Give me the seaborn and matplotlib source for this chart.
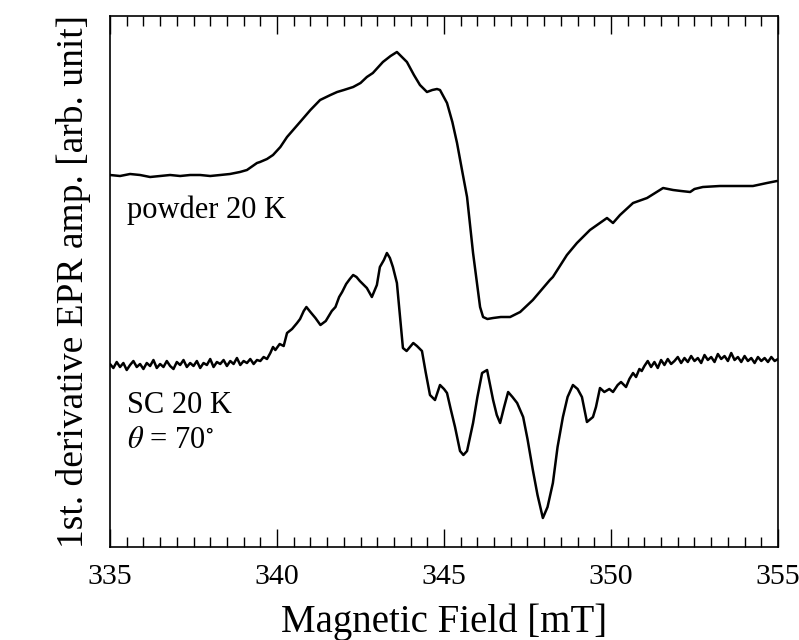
import numpy as np
import pandas as pd
import seaborn as sns
import matplotlib.pyplot as plt
from matplotlib.ticker import MultipleLocator

# powder spectrum, 20 K (field in mT, amplitude in arb. unit)
powder_field = [335.0, 335.3, 335.6, 335.9, 336.2, 336.5, 336.8, 337.1, 337.4, 337.7,
                338.0, 338.3, 338.59, 338.89, 339.1, 339.4, 339.49, 339.7, 339.88, 340.1,
                340.3, 340.69, 341.0, 341.29, 341.6, 341.8, 342.0, 342.28, 342.5, 342.69,
                342.87, 343.17, 343.4, 343.59, 343.89, 344.1, 344.28, 344.49, 344.65, 344.79,
                344.88, 345.09, 345.25, 345.39, 345.55, 345.69, 345.87, 346.08, 346.17, 346.3,
                346.47, 346.7, 346.98, 347.28, 347.66, 348.17, 348.26, 348.68, 348.98, 349.37,
                349.88, 350.06, 350.27, 350.66, 351.08, 351.56, 351.86, 352.1, 352.37, 352.5,
                352.75, 353.26, 353.77, 354.25, 354.67, 354.97]
powder_amp = [372, 371, 373, 372, 370, 371, 372, 371, 372, 372,
              371, 372, 373, 375, 377, 384, 385, 388, 392, 400,
              410, 425, 437, 447, 452, 455, 457, 460, 464, 470,
              474, 485, 491, 495, 485, 472, 462, 455, 457, 458,
              457, 444, 425, 404, 375, 350, 294, 240, 230, 228,
              229, 230, 230, 235, 247, 267, 270, 292, 304, 317,
              329, 324, 332, 344, 349, 359, 357, 356, 355, 358,
              360, 361, 361, 361, 364, 366]

# single crystal, 20 K, theta = 70 deg
sc_field = [335.0, 335.1, 335.2, 335.3, 335.4, 335.5, 335.6, 335.7, 335.8, 335.9,
            336.0, 336.1, 336.2, 336.3, 336.4, 336.5, 336.6, 336.7, 336.8, 336.9,
            337.0, 337.1, 337.2, 337.3, 337.4, 337.5, 337.6, 337.7, 337.8, 337.9,
            338.0, 338.1, 338.2, 338.3, 338.4, 338.5, 338.6, 338.7, 338.8, 338.9,
            339.0, 339.1, 339.2, 339.3, 339.4,
            339.5, 339.6, 339.7, 339.8, 339.88, 339.95, 340.08, 340.2, 340.3, 340.45,
            340.6, 340.69, 340.8, 340.88, 341.0, 341.15, 341.3, 341.46, 341.55, 341.64,
            341.75, 341.86, 341.95, 342.07, 342.18, 342.28, 342.38, 342.48, 342.6, 342.69,
            342.84, 342.99, 343.08, 343.2, 343.29, 343.38, 343.47, 343.59, 343.68, 343.77,
            343.88, 343.98, 344.08, 344.19, 344.34, 344.45, 344.58, 344.73, 344.88, 345.0,
            345.09, 345.2, 345.33, 345.48, 345.58, 345.69, 345.87, 346.0, 346.14, 346.29,
            346.38, 346.47, 346.58, 346.68, 346.8, 346.92, 347.05, 347.19, 347.37, 347.5,
            347.66, 347.8, 347.96, 348.1, 348.26, 348.4, 348.56, 348.7, 348.86, 349.0,
            349.13, 349.28, 349.46, 349.55, 349.67, 349.8, 349.95, 350.06, 350.2, 350.3,
            350.45, 350.55, 350.66, 350.75, 350.85, 350.92,
            351.0, 351.1, 351.2, 351.3, 351.4, 351.5, 351.6, 351.7, 351.8, 351.9,
            352.0, 352.1, 352.2, 352.3, 352.4, 352.5, 352.6, 352.7, 352.8, 352.9,
            353.0, 353.1, 353.2, 353.3, 353.4, 353.5, 353.6, 353.7, 353.8, 353.9,
            354.0, 354.1, 354.2, 354.3, 354.4, 354.5, 354.6, 354.7, 354.8, 354.9,
            355.0]
sc_amp = [183, 179, 185, 180, 184, 177, 182, 186, 180, 183,
          178, 184, 181, 187, 179, 183, 180, 186, 181, 178,
          185, 182, 187, 180, 184, 181, 186, 179, 184, 182,
          188, 180, 185, 183, 187, 181, 186, 183, 189, 182,
          186, 184, 188, 183, 187,
          186, 190, 188, 194, 200, 197, 203, 201, 214, 218,
          224, 228, 236, 240, 235, 229, 222, 226, 231, 236,
          240, 250, 255, 263, 268, 272, 270, 266, 262, 259,
          250, 262, 280, 287, 294, 289, 280, 264, 232, 199,
          196, 200, 204, 201, 196, 175, 152, 147, 162, 158,
          154, 138, 120, 96, 92, 96, 124, 150, 174, 177,
          162, 147, 132, 124, 140, 155, 150, 144, 130, 108,
          77, 52, 29, 40, 64, 100, 130, 150, 162, 158,
          150, 125, 130, 140, 159, 155, 158, 155, 162, 165,
          160, 168, 174, 170, 178, 176,
          181, 186, 180, 185, 179, 187, 182, 188, 183, 186,
          190, 184, 189, 185, 191, 186, 189, 184, 192, 187,
          190, 185, 193, 188, 191, 186, 194, 187, 190, 185,
          191, 186, 189, 184, 190, 186, 189, 185, 190, 186,
          188]

df = pd.concat([
    pd.DataFrame({"field": powder_field, "amp": powder_amp, "sample": "powder"}),
    pd.DataFrame({"field": sc_field, "amp": sc_amp, "sample": "SC"}),
])

sns.set_style("ticks")
plt.rcParams['font.family'] = ['Liberation Serif', 'DejaVu Serif']
plt.rcParams['mathtext.fontset'] = 'stix'
plt.rcParams['text.color'] = 'black'
plt.rcParams['axes.labelcolor'] = 'black'

fig = plt.figure(figsize=(7.99, 6.40), dpi=100)
ax = fig.add_axes([0.1377, 0.1453, 0.836, 0.8297])

sns.lineplot(data=df, x="field", y="amp", units="sample", estimator=None,
             color="black", linewidth=1.8, sort=False, ax=ax)

ax.set_xlim(335, 355)
ax.set_ylim(0, 531)
ax.xaxis.set_major_locator(MultipleLocator(5))
ax.xaxis.set_minor_locator(MultipleLocator(0.5))
ax.set_yticks([])
ax.tick_params(axis="x", which="both", direction="in", top=True, bottom=True,
               width=1.0, labelsize=21.5, pad=12, colors="black")
ax.tick_params(axis="x", which="major", length=13)
ax.tick_params(axis="x", which="minor", length=7)
for sp in ax.spines.values():
    sp.set_visible(True)
    sp.set_linewidth(1.2)
    sp.set_color("black")

ax.set_xlabel("Magnetic Field [mT]", fontsize=28, labelpad=10, color="black")
ax.set_ylabel("1st. derivative EPR amp. [arb. unit]", fontsize=27, labelpad=14, color="black")

ax.text(335.5, 337, "powder 20 K", fontsize=22, va="center", ha="left", color="black")
ax.text(335.5, 142, "SC 20 K", fontsize=22, va="center", ha="left", color="black")
ax.text(335.5, 107, r"$\theta$ = 70$^{\circ}$", fontsize=22, va="center", ha="left", color="black")

fig.savefig("out.png", dpi=100)
